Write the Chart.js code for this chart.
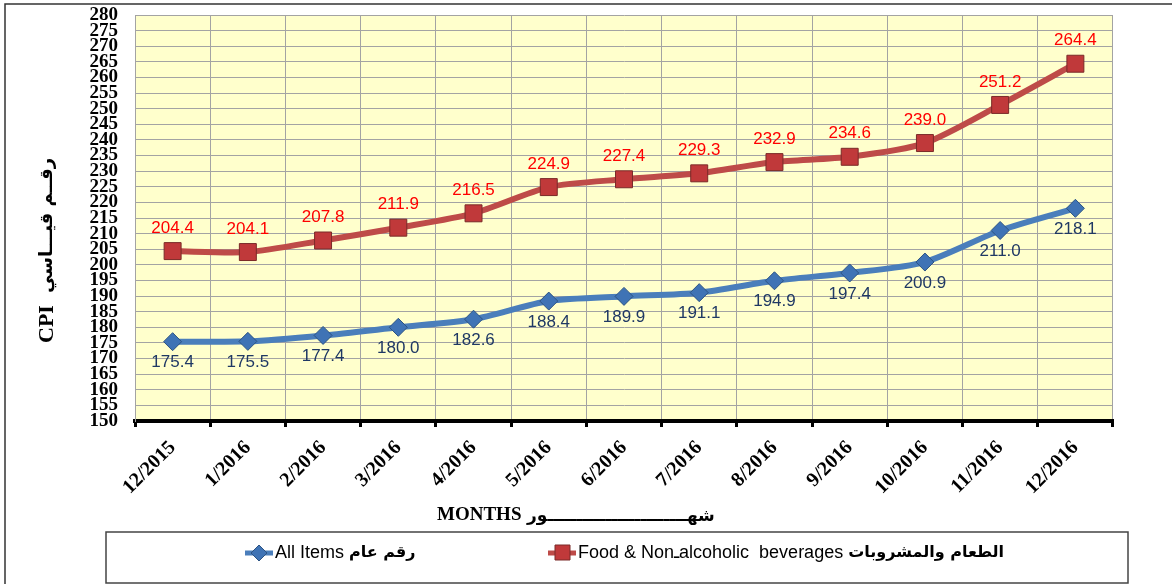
<!DOCTYPE html>
<html>
<head>
<meta charset="utf-8">
<script src="https://cdn.jsdelivr.net/npm/chart.js@4.4.1/dist/chart.umd.min.js"></script>
<style>
  html, body { margin: 0; padding: 0; background: #fff; }
  #wrap { width: 1172px; height: 584px; position: relative; }
</style>
</head>
<body>
<div id="wrap"><canvas id="cpiChart" width="1172" height="584"></canvas></div>
<script>
const months = ['12/2015', '1/2016', '2/2016', '3/2016', '4/2016', '5/2016', '6/2016',
                '7/2016', '8/2016', '9/2016', '10/2016', '11/2016', '12/2016'];
const allItems = [175.4, 175.5, 177.4, 180.0, 182.6, 188.4, 189.9, 191.1, 194.9, 197.4, 200.9, 211.0, 218.1];
const foodBev = [204.4, 204.1, 207.8, 211.9, 216.5, 224.9, 227.4, 229.3, 232.9, 234.6, 239.0, 251.2, 264.4];
const yMin = 150, yMax = 280, yStep = 5;

const gridGray = '#a3a3a3';

// yellow plot background + outer frame
const backdrop = {
  id: 'backdrop',
  beforeDraw(chart) {
    const { ctx, chartArea: a } = chart;
    ctx.save();
    ctx.fillStyle = '#ffffcc';
    ctx.fillRect(a.left, a.top, a.right - a.left, a.bottom - a.top);
    ctx.strokeStyle = '#333';
    ctx.lineWidth = 1.5;
    ctx.beginPath();
    ctx.moveTo(5, 600);
    ctx.lineTo(5, 4);
    ctx.lineTo(1180, 4);
    ctx.stroke();
    ctx.restore();
  }
};

// value labels above/below the points
const pointLabels = {
  id: 'pointLabels',
  afterDatasetsDraw(chart) {
    const ctx = chart.ctx;
    ctx.save();
    ctx.font = '17px "Liberation Sans", Arial, sans-serif';
    ctx.textAlign = 'center';
    ctx.textBaseline = 'middle';
    chart.data.datasets.forEach((ds, i) => {
      const meta = chart.getDatasetMeta(i);
      ctx.fillStyle = ds.labelColor;
      meta.data.forEach((pt, j) => {
        ctx.fillText(ds.data[j].toFixed(1), pt.x, pt.y + ds.labelShift);
      });
    });
    ctx.restore();
  }
};

// axis titles and the boxed legend
const titlesAndLegend = {
  id: 'titlesAndLegend',
  afterDraw(chart) {
    const ctx = chart.ctx;
    ctx.save();
    ctx.fillStyle = '#000';
    ctx.textBaseline = 'middle';

    // x title
    ctx.font = 'bold 19px "Liberation Serif", serif';
    ctx.textAlign = 'left';
    ctx.fillText('MONTHS', 437, 515);
    ctx.font = 'bold 17px "DejaVu Sans", sans-serif';
    ctx.fillText('شهــــــــــــــــــــــــور', 527, 517);

    // y title
    ctx.save();
    ctx.translate(47, 343);
    ctx.rotate(-Math.PI / 2);
    ctx.font = 'bold 22px "Liberation Serif", serif';
    ctx.fillText('CPI', 0, 0);
    ctx.font = 'bold 18px "DejaVu Sans", sans-serif';
    ctx.fillText('رقــم قيـــاسي', 50, 0);
    ctx.restore();

    // legend box
    ctx.strokeStyle = '#444';
    ctx.lineWidth = 1.5;
    ctx.strokeRect(106, 532, 1022, 51);

    const ly = 553;
    const items = [
      { x: 245, ds: chart.data.datasets[0], en: 'All Items', ar: 'رقم عام' },
      { x: 548, ds: chart.data.datasets[1], en: 'Food & Nonـalcoholic  beverages', ar: 'الطعام والمشروبات' }
    ];
    items.forEach(it => {
      ctx.strokeStyle = it.ds.borderColor;
      ctx.lineWidth = 5;
      ctx.beginPath();
      ctx.moveTo(it.x, ly);
      ctx.lineTo(it.x + 28, ly);
      ctx.stroke();
      ctx.fillStyle = it.ds.pointBackgroundColor;
      ctx.strokeStyle = it.ds.pointBorderColor;
      ctx.lineWidth = 1;
      ctx.beginPath();
      if (it.ds.pointStyle === 'rectRot') {
        ctx.moveTo(it.x + 14, ly - 8);
        ctx.lineTo(it.x + 22, ly);
        ctx.lineTo(it.x + 14, ly + 8);
        ctx.lineTo(it.x + 6, ly);
        ctx.closePath();
      } else {
        ctx.rect(it.x + 7, ly - 8, 15, 15);
      }
      ctx.fill();
      ctx.stroke();
      ctx.fillStyle = '#000';
      ctx.font = '18px "Liberation Sans", Arial, sans-serif';
      ctx.textAlign = 'left';
      ctx.fillText(it.en, it.x + 30, ly);
      const w = ctx.measureText(it.en + ' ').width;
      ctx.font = 'bold 16px "DejaVu Sans", sans-serif';
      ctx.fillText(it.ar, it.x + 30 + w, ly);
    });
    ctx.restore();
  }
};

new Chart(document.getElementById('cpiChart'), {
  type: 'line',
  data: {
    labels: months,
    datasets: [
      {
        label: 'All Items رقم عام',
        data: allItems,
        borderColor: '#4a7ebb',
        borderWidth: 6,
        pointStyle: 'rectRot',
        pointRadius: 9,
        pointBackgroundColor: '#3f73b5',
        pointBorderColor: '#2c5383',
        pointBorderWidth: 1,
        tension: 0.25,
        labelColor: '#1f3864',
        labelShift: 21
      },
      {
        label: 'Food & Non-alcoholic beverages الطعام والمشروبات',
        data: foodBev,
        borderColor: '#be4b48',
        borderWidth: 6,
        pointStyle: 'rect',
        pointRadius: 12,
        pointBackgroundColor: '#c0393a',
        pointBorderColor: '#7a2a28',
        pointBorderWidth: 1,
        tension: 0.25,
        labelColor: '#ff0000',
        labelShift: -23
      }
    ]
  },
  options: {
    responsive: false,
    animation: false,
    layout: { padding: { top: 15, right: 59, bottom: 60, left: 0 } },
    plugins: { legend: { display: false }, tooltip: { enabled: false } },
    scales: {
      x: {
        offset: true,
        grid: { offset: true, color: gridGray, lineWidth: 1, tickColor: '#000', tickWidth: 3, tickLength: 6 },
        border: { color: '#000', width: 4 },
        ticks: {
          color: '#000',
          font: { family: '"Liberation Serif", "Times New Roman", serif', size: 20, weight: 'bold' },
          minRotation: 45,
          maxRotation: 45,
          autoSkip: false,
          padding: 9
        },
        afterFit(s) { s.height = 103; }
      },
      y: {
        min: yMin,
        max: yMax,
        grid: { color: gridGray, lineWidth: 1, drawTicks: false },
        border: { color: gridGray, width: 1 },
        ticks: {
          stepSize: yStep,
          autoSkip: false,
          color: '#000',
          padding: 17,
          font: { family: '"Liberation Serif", "Times New Roman", serif', size: 19, weight: 'bold', lineHeight: 1 }
        },
        afterFit(s) { s.width = 135; s.paddingTop = 10; s.paddingBottom = 10; }
      }
    }
  },
  plugins: [backdrop, pointLabels, titlesAndLegend]
});
</script>
</body>
</html>
